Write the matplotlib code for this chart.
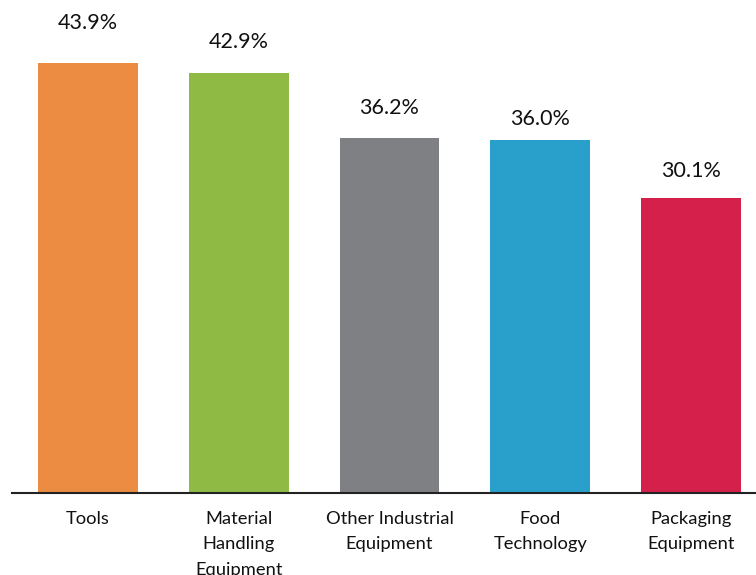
import matplotlib
matplotlib.use("Agg")
import matplotlib.pyplot as plt

categories = ["Tools", "Material\nHandling\nEquipment", "Other Industrial\nEquipment",
              "Food\nTechnology", "Packaging\nEquipment"]
values = [43.9, 42.9, 36.2, 36.0, 30.1]
value_labels = ["43.9%", "42.9%", "36.2%", "36.0%", "30.1%"]

colors = ["#EB8C42", "#8FBB45", "#7E8083", "#29A0CB", "#D6204C"]
label_offsets_px = [40, 31, 30, 21, 27]

plt.rcParams['font.family'] = ['Lato', 'DejaVu Sans']

fig = plt.figure(figsize=(7.56, 5.75), dpi=100)
ax = fig.add_axes([12/756, (575-493)/575, 1 - 12/756, 493/575])

x = list(range(len(categories)))
ax.bar(x, values, width=0.663, color=colors, zorder=2)
ax.set_xlim(-0.504, 4.431)
ax.set_ylim(0, 493/9.795)

for xi, v, lab, off in zip(x, values, value_labels, label_offsets_px):
    ax.annotate(lab, (xi, v), xytext=(0, off*0.72), textcoords="offset points",
                ha="center", va="center", fontsize=15.5, color="#111111")

ax.set_xticks(x)
ax.set_xticklabels(categories, fontsize=13.2, color="#111111", linespacing=1.72, va="top")
ax.tick_params(axis="x", length=0, pad=13)
ax.set_yticks([])
for s in ["top", "right", "left"]:
    ax.spines[s].set_visible(False)
ax.spines["bottom"].set_color("#222222")
ax.spines["bottom"].set_linewidth(1.5)

fig.savefig("out.png", dpi=100)
